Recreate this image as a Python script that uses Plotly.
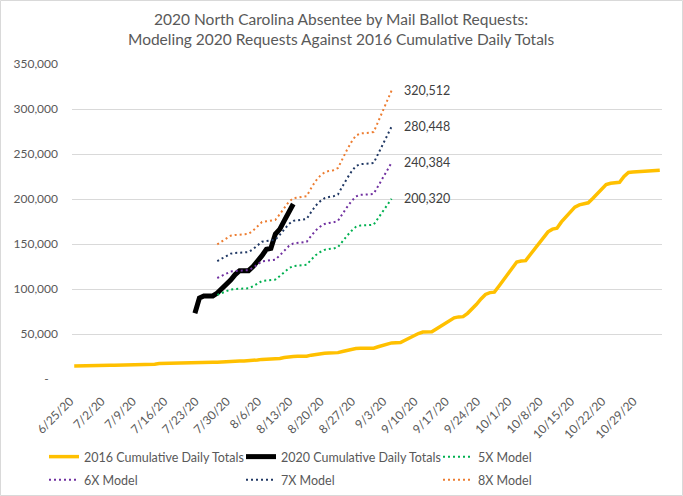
import pandas as pd
import plotly.graph_objects as go

# ---------------- data ----------------
dates_2016 = pd.date_range("2020-06-25", "2020-11-03")
vals_2016 = [
    14400, 14600, 14800, 15000, 15100, 15100, 15100, 15200, 15200, 15200,
    15300, 15300, 15300, 15300, 15400, 15400, 15500, 15600, 16400, 17100,
    17300, 17400, 17400, 17500, 17600, 17700, 17900, 18100, 18300, 18500,
    18600, 18650, 18700, 19100, 19500, 19900, 20000, 20050, 20100, 20150,
    20600, 21200, 21800, 21900, 22000, 22100, 22900, 23800, 24600, 25100,
    25200, 25300, 25400, 26500, 27500, 28200, 28700, 28900, 29000, 29300,
    30600, 31800, 32900, 33800, 34100, 34100, 34200, 34300, 35800, 37300,
    38700, 40064, 40200, 40400, 43000, 45800, 48200, 50500, 52200, 52300,
    52400, 55500, 58600, 62000, 65000, 68000, 69000, 69300, 73000, 77500,
    83000, 89000, 94000, 96000, 96500, 103000, 110000, 117000, 124000, 130000,
    131000, 131500, 138000, 144500, 150000, 157000, 163500, 166500, 167500, 174500,
    180000, 185500, 191000, 193500, 195000, 195800, 200600, 206000, 211000, 216000,
    217500, 218000, 218500, 225000, 229500, 230000, 230300, 230500, 230700, 231000,
    231500, 232000,
]

dates_2020 = pd.date_range("2020-07-22", "2020-08-13")
vals_2020 = [
    73000, 90000, 92300, 92300, 92300, 95500, 100000, 104000, 110000, 116000,
    120400, 120400, 120400, 125000, 130400, 137000, 144100, 145200, 161100, 166500,
    176000, 185500, 194500,
]

dates_model = pd.date_range("2020-07-27", "2020-09-04")
model_5x = [
    93500, 95500, 97500, 99500, 100000, 100250, 100500, 100750, 103000, 106000,
    109000, 109500, 110000, 110500, 114500, 119000, 123000, 125500, 126000, 126500,
    127000, 132500, 137500, 141000, 143500, 144500, 145000, 146500, 153000, 159000,
    164500, 169000, 170500, 170500, 171000, 171500, 179000, 186500, 193500, 200320,
]
model_6x = [
    112200, 114600, 117000, 119400, 120000, 120300, 120600, 120900, 123600, 127200,
    130800, 131400, 132000, 132600, 137400, 142800, 147600, 150600, 151200, 151800,
    152400, 159000, 165000, 169200, 172200, 173400, 174000, 175800, 183600, 190800,
    197400, 202800, 204600, 204600, 205200, 205800, 214800, 223800, 232200, 240384,
]
model_7x = [
    130900, 133700, 136500, 139300, 140000, 140350, 140700, 141050, 144200, 148400,
    152600, 153300, 154000, 154700, 160300, 166600, 172200, 175700, 176400, 177100,
    177800, 185500, 192500, 197400, 200900, 202300, 203000, 205100, 214200, 222600,
    230300, 236600, 238700, 238700, 239400, 240100, 250600, 261100, 270900, 280448,
]
model_8x = [
    149600, 152800, 156000, 159200, 160000, 160400, 160800, 161200, 164800, 169600,
    174400, 175200, 176000, 176800, 183200, 190400, 196800, 200800, 201600, 202400,
    203200, 212000, 220000, 225600, 229600, 231200, 232000, 234400, 244800, 254400,
    263200, 270400, 272800, 272800, 273600, 274400, 286400, 298400, 309600, 320512,
]

y_tickvals = [0, 50000, 100000, 150000, 200000, 250000, 300000, 350000]
y_ticktext = ["-\u00a0\u00a0\u00a0", "50,000", "100,000", "150,000", "200,000",
              "250,000", "300,000", "350,000"]

TITLE = ("2020 North Carolina Absentee by Mail Ballot Requests:<br>"
         "Modeling 2020 Requests Against 2016 Cumulative Daily Totals")

# ---------------- figure ----------------
FONT = "Lato"
GREY = "#595959"

fig = go.Figure()
fig.add_trace(go.Scatter(x=dates_2016, y=vals_2016, mode="lines",
                         name="2016 Cumulative Daily Totals", legend="legend",
                         line=dict(color="#FFC000", width=3.5)))
fig.add_trace(go.Scatter(x=dates_2020, y=vals_2020, mode="lines",
                         name="2020 Cumulative Daily Totals", legend="legend",
                         line=dict(color="#000000", width=5)))

models = [
    ("5X Model", model_5x, "#00B050", "legend"),
    ("6X Model", model_6x, "#7030A0", "legend2"),
    ("7X Model", model_7x, "#203864", "legend2"),
    ("8X Model", model_8x, "#ED7D31", "legend2"),
]
for name, vals, col, leg in models:
    fig.add_trace(go.Scatter(x=dates_model, y=vals, mode="lines", name=name,
                             legend=leg,
                             line=dict(color=col, width=2, dash="2px,3px")))
    fig.add_annotation(x=dates_model[-1], y=vals[-1], text=f"{vals[-1]:,}",
                       showarrow=False, xanchor="left", yanchor="middle",
                       xshift=10, font=dict(family=FONT, size=12.5, color="#404040"))

L, R, T, B = 72, 21, 64, 117
W, H = 683, 496
pw, ph = W - L - R, H - T - B

fig.add_shape(type="rect", xref="paper", yref="paper",
              x0=-(L - 0.5) / pw, x1=(W - L - 0.5) / pw,
              y0=-(B - 0.5) / ph, y1=(H - B - 0.5) / ph,
              line=dict(color="#D9D9D9", width=1), layer="below")

# title as an annotation centred on the figure
fig.add_annotation(text=TITLE, xref="paper", yref="paper",
                   x=(W / 2 - L) / pw, y=1 + (T - 8) / ph,
                   xanchor="center", yanchor="top", showarrow=False,
                   align="center",
                   font=dict(family=FONT, size=15.5, color=GREY))

legend_common = dict(orientation="h", xanchor="left", yanchor="top",
                     entrywidth=152, entrywidthmode="pixels",
                     font=dict(family=FONT, size=12.5, color=GREY),
                     bgcolor="rgba(0,0,0,0)")

fig.update_layout(
    width=W, height=H,
    margin=dict(l=L, r=R, t=T, b=B, autoexpand=False),
    paper_bgcolor="white", plot_bgcolor="white",
    font=dict(family=FONT, color=GREY, size=12),
    showlegend=True,
    legend=dict(x=(44 - L) / pw, y=-(442 - (H - B)) / ph, **legend_common),
    legend2=dict(x=(44 - L) / pw, y=-(465 - (H - B)) / ph, **legend_common),
    xaxis=dict(type="date",
               range=["2020-06-24 12:00", "2020-11-03 12:00"],
               tick0="2020-06-25", dtick=7 * 86400000,
               tickformat="%-m/%-d/%y", tickangle=-45,
               showgrid=False, zeroline=False, showline=False,
               ticks="", automargin=False,
               ticklabelshift=-4, ticklabelstandoff=12,
               tickfont=dict(family=FONT, size=12, color=GREY)),
    yaxis=dict(range=[0, 350000], tickvals=y_tickvals, ticktext=y_ticktext,
               showgrid=True, gridcolor="#D9D9D9", gridwidth=1,
               zeroline=False, showline=False, ticks="", automargin=False,
               ticklabelstandoff=13,
               tickfont=dict(family=FONT, size=12, color=GREY)),
)

fig.write_html("out.html",
               config={"displayModeBar": False},
               post_script="document.body.style.margin='0';"
                           "document.body.style.padding='0';"
                           "document.body.style.overflow='hidden';")
